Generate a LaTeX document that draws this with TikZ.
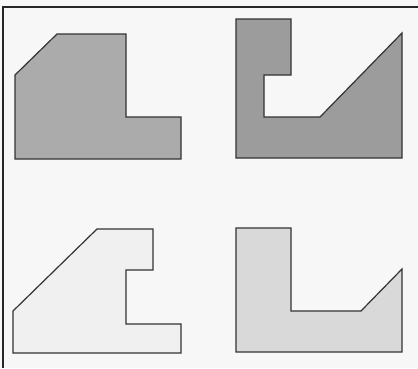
\documentclass[tikz,border=0pt]{standalone}
\usepackage{xcolor}
\usepackage{tikz}
\definecolor{midgrey}{gray}{0.67}
\definecolor{darkgrey}{gray}{0.61}
\definecolor{palegrey}{gray}{0.94}
\definecolor{lightgrey}{gray}{0.85}
\definecolor{edge}{gray}{0.2}

\begin{document}
\begin{tikzpicture}[x=1pt,y=-1pt,face/.style={draw=edge,line width=1.2pt,line join=miter}]
\useasboundingbox (0,0) rectangle (418,368);
\fill[white!97!black] (0,0) rectangle (418,368);
% frame, only top and left edges show
\draw[line width=1.6pt,black!85] (3,368)--(3,7)--(418,7);
% top left
\draw[face,fill=midgrey] (15,75)--(57,34)--(126,34)--(126,117)--(181,117)--(181,159)--(15,159)--cycle;
% top right
\draw[face,fill=darkgrey] (236,19)--(291,19)--(291,75)--(264,75)--(264,117)--(320,117)--(402,33)--(402,158)--(236,158)--cycle;
% bottom left
\draw[face,fill=palegrey] (13,311)--(97,229)--(153,229)--(153,270)--(126,270)--(126,324)--(181,324)--(181,353)--(13,353)--cycle;
% bottom right
\draw[face,fill=lightgrey] (236,228)--(291,228)--(291,311)--(361,311)--(402,269)--(402,352)--(236,352)--cycle;
\end{tikzpicture}
\end{document}
